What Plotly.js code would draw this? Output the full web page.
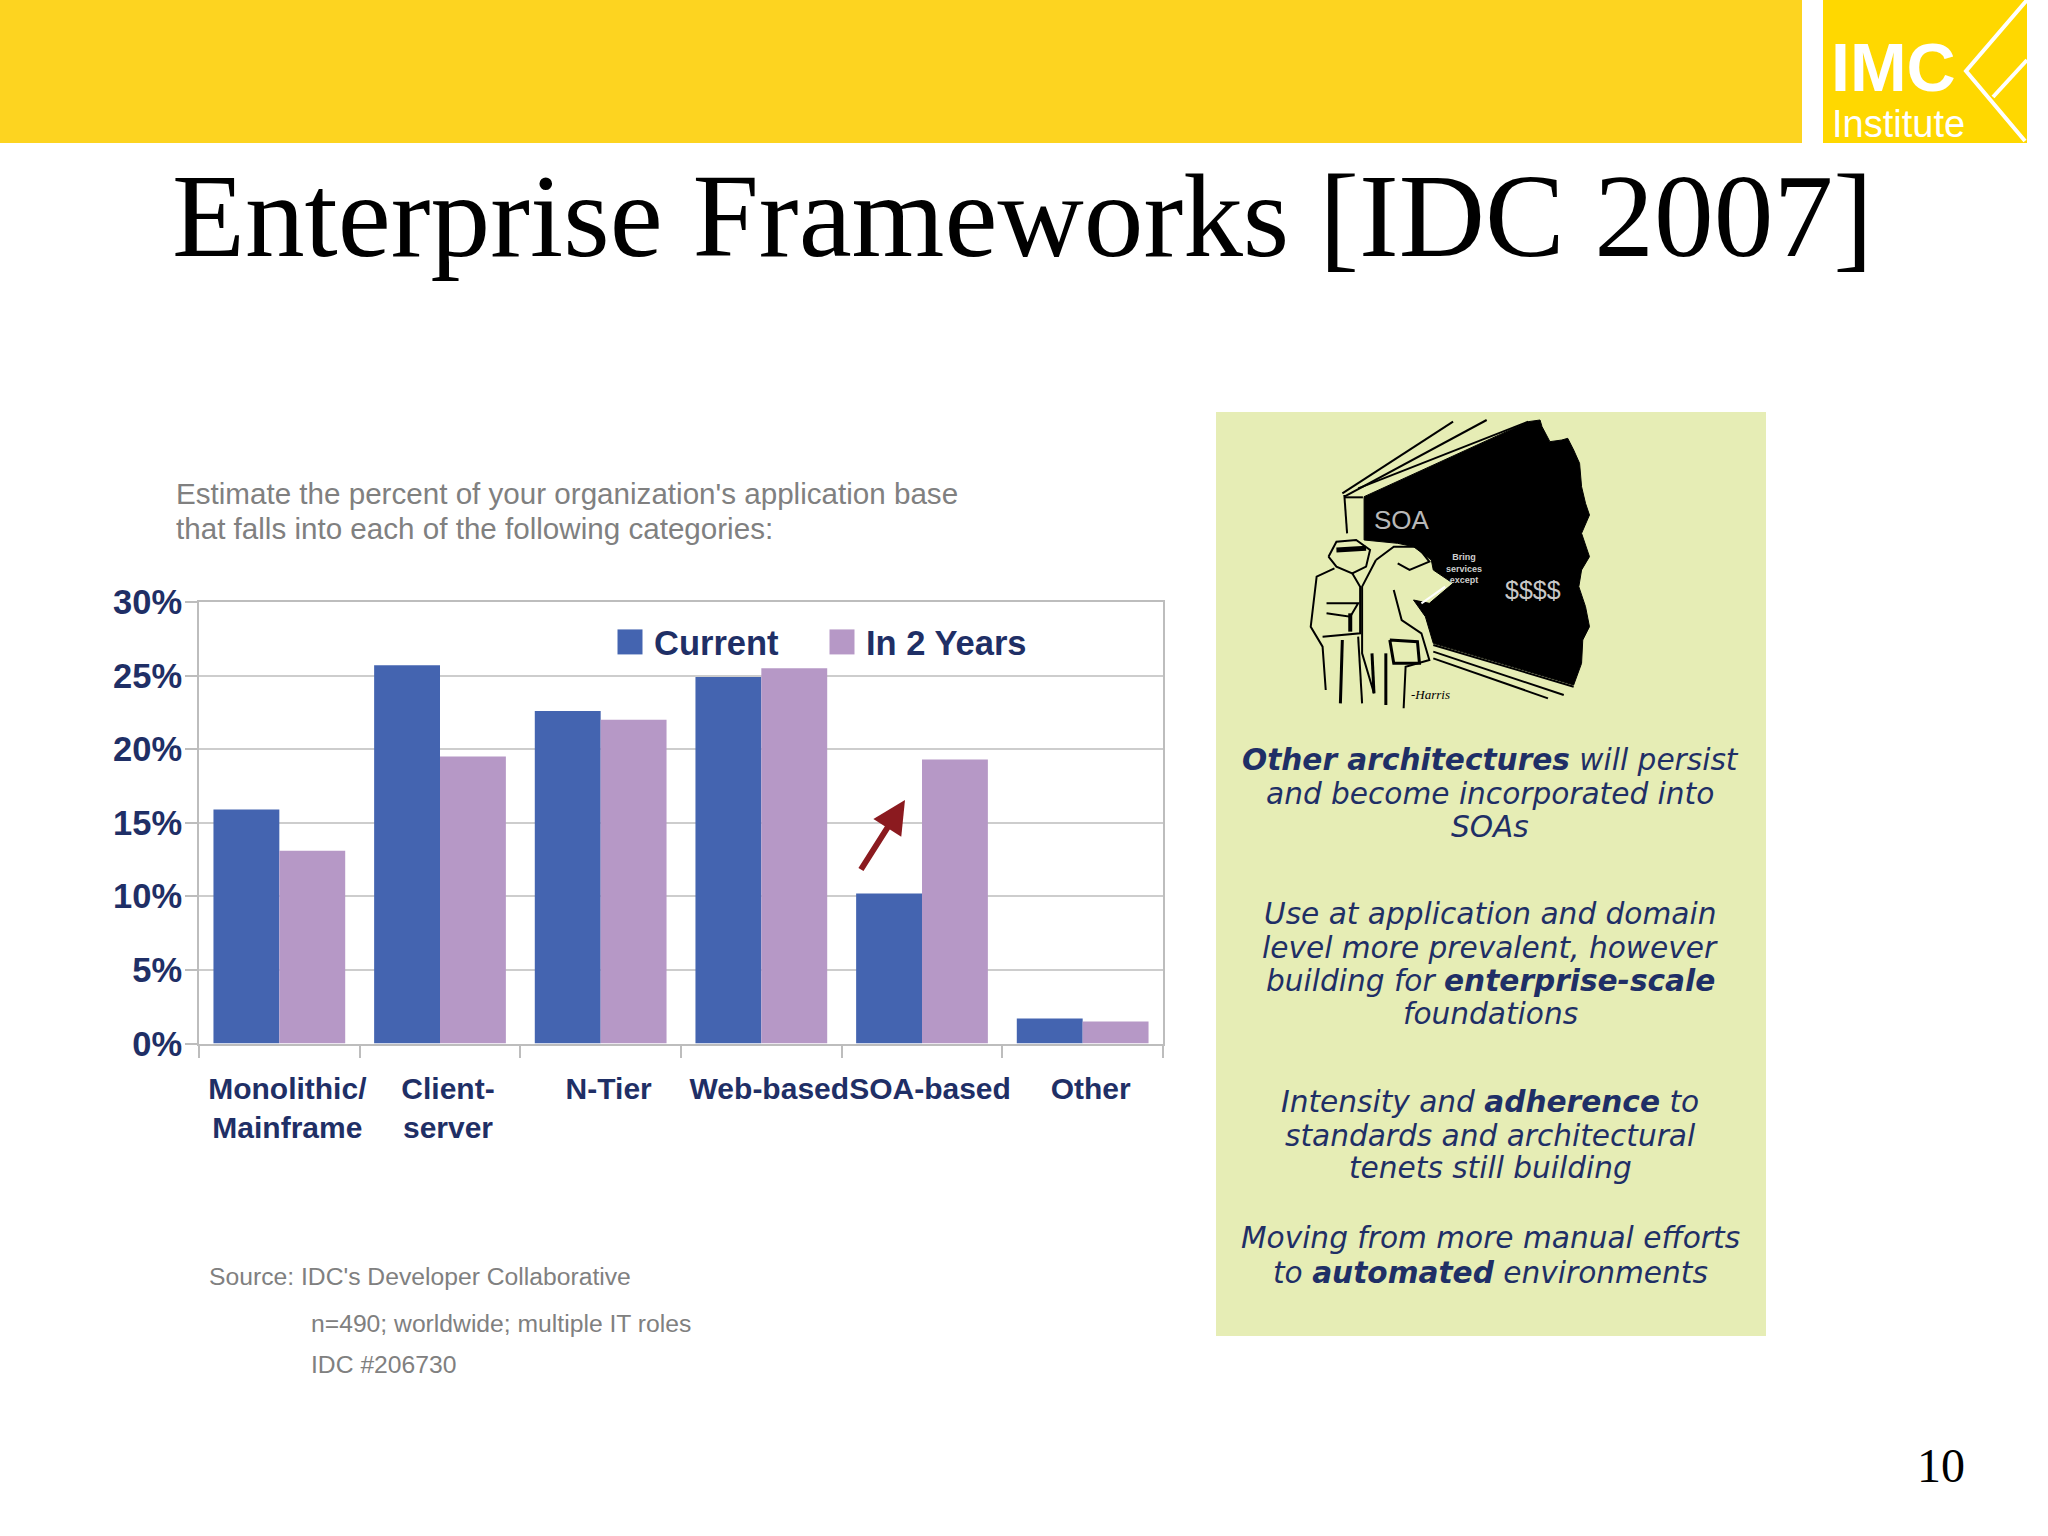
<!DOCTYPE html>
<html><head><meta charset="utf-8">
<script src="https://cdn.plot.ly/plotly-3.0.1.min.js"></script>
<style>html,body{margin:0;padding:0;background:#fff}</style></head>
<body><div id="chart" style="width:2048px;height:1536px"></div>
<script>
var categories = ["Monolithic/<br>Mainframe","Client-<br>server","N-Tier","Web-based","SOA-based","Other"];
var currentValues = [15.9,25.7,22.6,24.9,10.2,1.7];
var inTwoYearsValues = [13.1,19.5,22.0,25.5,19.3,1.5];
var yTickValues = [0,5,10,15,20,25,30];
var yTickLabels = ["0%","5%","10%","15%","20%","25%","30%"];
var panelLines = [
 ["<b>Other architectures</b> will persist",760],
 ["and become incorporated into",794],
 ["SOAs",827],
 ["Use at application and domain",914],
 ["level more prevalent, however",948],
 ["building for <b>enterprise-scale</b>",981],
 ["foundations",1014],
 ["Intensity and <b>adherence</b> to",1102],
 ["standards and architectural",1136],
 ["tenets still building",1168],
 ["Moving from more manual efforts",1238],
 ["to <b>automated</b> environments",1273]
];
var W=2048,H=1536,NAVY="#1f2f66",GRAY="#808080";
function px(v){return v/W} function py(v){return 1-v/H}
function rect(x0,y0,x1,y1,c){return {type:"rect",xref:"paper",yref:"paper",x0:px(x0),x1:px(x1),y0:py(y1),y1:py(y0),fillcolor:c,line:{width:0},layer:"below"}}
function poly(pts,o){o=o||{};var d=pts.map(function(p,i){return (i?"L":"M")+px(p[0]).toFixed(5)+","+py(p[1]).toFixed(5)}).join("")+(o.fill?"Z":"");
 return {type:"path",xref:"paper",yref:"paper",path:d,fillcolor:o.fill||"rgba(0,0,0,0)",line:{color:o.color||"#000",width:o.width==null?2:o.width},layer:"below"}}
function z(pts){return pts.map(function(p){return [1200+p[0]*0.3954,400+p[1]/3]})}
function note(t,x,y,size,color,family,anchor,extra){var a={text:t,xref:"paper",yref:"paper",x:px(x),y:py(y),xanchor:anchor||"left",yanchor:"middle",showarrow:false,align:anchor||"left",font:{size:size,color:color,family:family}};
 if(extra)for(var k in extra)a[k]=extra[k];return a}
var SANS="Liberation Sans",SERIF="Liberation Serif",PANEL="DejaVu Sans";
var shapes=[
 rect(0,0,1802,143,"#FDD420"),
 rect(1823,0,2027,143,"#FFD800"),
 poly([[2027,0],[1966,71],[2025,141]],{color:"#fff",width:4}),
 poly([[1993,97],[2027,60]],{color:"#fff",width:4}),
 rect(1216,412,1766,1336,"#E6EDB5"),
 poly(z([[415,290],[830,65],[860,60],[865,80],[885,125],[915,120],[930,115],[945,150],[960,190],[965,260],[975,310],[985,345],[965,400],[985,470],[965,510],[958,560],[975,620],[985,680],[968,720],[965,790],[945,855],[590,730],[570,650],[540,600],[580,610],[640,550],[590,510],[585,480],[540,440],[500,430],[415,420]]),{fill:"#000",width:1}),
 poly(z([[360,280],[640,65]])),poly(z([[365,290],[725,60]])),poly(z([[400,265],[830,65]])),
 poly(z([[365,285],[372,400]])),poly(z([[365,292],[412,292]])),
 poly(z([[590,735],[945,860]])),poly(z([[590,755],[920,885]])),poly(z([[590,775],[880,895]])),
 poly(z([[325,470],[345,425],[395,420],[430,450],[420,500],[385,520],[345,500],[325,470]])),
 poly(z([[345,450],[420,445]]),{width:5}),
 poly(z([[340,505],[295,530],[280,680],[310,740],[318,870]])),
 poly(z([[385,520],[405,560],[405,700],[310,710]])),
 poly(z([[320,610],[400,610],[380,650],[320,640]])),
 poly(z([[380,640],[380,695]]),{width:4}),
 poly(z([[360,720],[355,910]]),{width:3}),poly(z([[400,710],[410,910]]),{width:2}),
 poly(z([[435,760],[440,880]]),{width:3}),
 poly(z([[445,480],[490,440],[550,440],[580,485],[530,510],[500,490]])),
 poly(z([[445,480],[410,560],[410,760],[440,880]])),
 poly(z([[490,570],[510,660],[560,700],[580,780],[520,800],[515,925]])),
 poly(z([[470,760],[470,915]]),{width:3}),
 poly(z([[480,720],[550,725],[555,790],[490,790],[480,720]]),{width:3}),
 poly(z([[560,610],[620,560]]),{color:"#fff",width:2})
];
var annotations=[
 note("Enterprise Frameworks [IDC 2007]",1022,216,119.4,"#000",SERIF,"center"),
 note("<b>IMC</b>",1829,67,68,"#fff",SANS),
 note("Institute",1830,124,38,"#fff",SANS),
 note("10",1941,1465,48,"#000",SERIF,"center"),
 note("Estimate the percent of your organization's application base",174,494,29.6,GRAY,SANS),
 note("that falls into each of the following categories:",174,528,29.6,GRAY,SANS),
 note("Source: IDC's Developer Collaborative",207,1276,24.7,GRAY,SANS),
 note("n=490; worldwide; multiple IT roles",309,1323,24.7,GRAY,SANS),
 note("IDC #206730",309,1364,24.7,GRAY,SANS),
 note("SOA",1372,520,26,"#b8b8b8",SANS,"left"),
 note("$$$$",1533,590,25,"#c8c8c8",SANS,"center"),
 note("<b>Bring<br>services<br>except</b>",1464,569,9,"#cfcfcf",SANS,"center"),
 note("<i>-Harris</i>",1430,695,13,"#000",SERIF,"center"),
 {xref:"paper",yref:"paper",axref:"paper",ayref:"paper",x:px(905),y:py(800),ax:px(860),ay:py(871),text:"",showarrow:true,arrowhead:2,arrowsize:1.1,arrowwidth:6,arrowcolor:"#8b1a1f"}
];
panelLines.forEach(function(l){annotations.push(note("<i>"+l[0]+"</i>",1490,l[1],29.6,NAVY,PANEL,"center"))});

var traces=[
 {type:"bar",name:"Current",x:categories,y:currentValues,marker:{color:"#4464B0"}},
 {type:"bar",name:"In 2 Years",x:categories,y:inTwoYearsValues,marker:{color:"#B698C6"}}
];
var layout={
 width:W,height:H,autosize:false,margin:{l:0,r:0,t:0,b:0,pad:0},
 paper_bgcolor:"#fff",plot_bgcolor:"#fff",
 barmode:"group",bargap:0.18,bargroupgap:0,
 xaxis:{domain:[px(199),px(1163)],type:"category",tickson:"boundaries",ticks:"outside",ticklen:12,tickwidth:2,tickcolor:"#bdbdbd",
  showgrid:false,showline:true,linecolor:"#bdbdbd",linewidth:2,mirror:true,tickangle:0,ticklabelshift:8,ticklabelstandoff:17,
  tickfont:{family:SANS,size:30,color:NAVY,weight:700},automargin:false},
 yaxis:{domain:[py(1043.5),py(602)],range:[0,30],tickmode:"array",tickvals:yTickValues,ticktext:yTickLabels,ticks:"outside",ticklen:12,tickwidth:2,tickcolor:"#bdbdbd",ticklabelstandoff:-4,
  showgrid:true,gridcolor:"#cdcdcd",gridwidth:2,zeroline:false,showline:true,linecolor:"#bdbdbd",linewidth:2,mirror:true,
  tickfont:{family:SANS,size:34.5,color:NAVY,weight:700},automargin:false},
 legend:{orientation:"h",x:px(606),y:py(613),xanchor:"left",yanchor:"top",bgcolor:"rgba(0,0,0,0)",itemwidth:38,entrywidth:159,entrywidthmode:"pixels",traceorder:"normal",
  font:{family:SANS,size:34.5,color:NAVY,weight:700},itemclick:false,itemdoubleclick:false},
 shapes:shapes,annotations:annotations
};
Plotly.newPlot("chart",traces,layout,{displayModeBar:false,staticPlot:true}).then(function(){
 document.querySelectorAll(".legend .legendbar path, .legend .legendpoints path").forEach(function(p){p.setAttribute("d","M12.5,12.5H-12.5V-12.5H12.5Z")});
});
</script></body></html>
